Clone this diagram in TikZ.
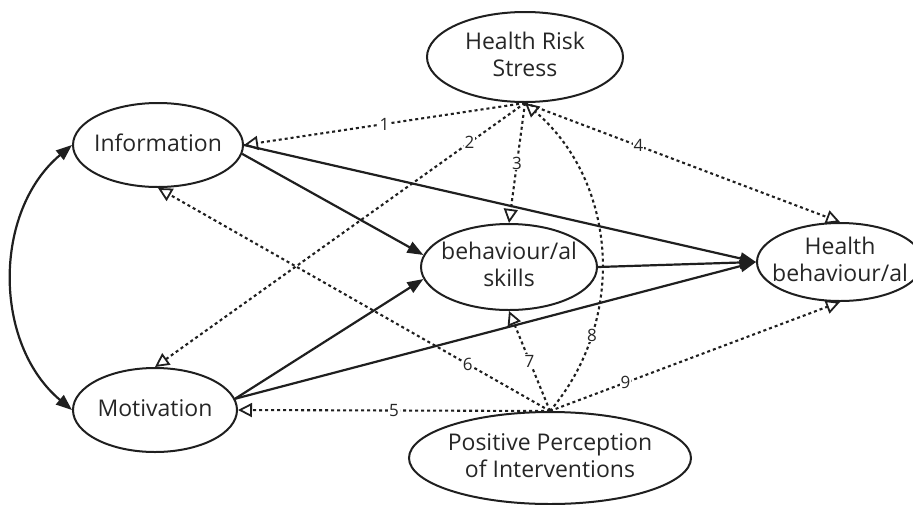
\documentclass[tikz,border=0pt]{standalone}
\usepackage{fontspec}
\setmainfont{Open Sans}
\usetikzlibrary{shapes.geometric,arrows.meta}
\newcommand{\ctext}[1]{\smash{\makebox[0pt]{\raisebox{-0.3em}{\begin{tabular}{@{}c@{}}#1\end{tabular}}}}}
\begin{document}
\begin{tikzpicture}[x=1pt,y=-1pt,
  ink/.style={draw=black!88},
  ell/.style={ink, ellipse, line width=2pt, inner sep=0pt, font=\fontsize{23}{27}\selectfont, text=black!85},
  solidarr/.style={ink, line width=2.2pt, -{Triangle[length=16pt,width=12pt]}},
  dotarr/.style={ink, line width=2.1pt, dash pattern=on 3pt off 3pt, -{Triangle[open,length=14pt,width=14pt,line width=1.8pt]}},
  lbl/.style={fill=white, inner sep=1pt, font=\fontsize{17}{17}\selectfont, text=black!85}]
\useasboundingbox (0,0) rectangle (913,504);
\node[ell, minimum width=196pt, minimum height=90pt] (hrs) at (525,57) {\ctext{Health Risk\\Stress}};
\node[ell, minimum width=170pt, minimum height=84pt] (info) at (158,145) {\ctext{Information}};
\node[ell, minimum width=164pt, minimum height=84pt] (mot) at (155,410) {\ctext{Motivation}};
\node[ell, minimum width=176pt, minimum height=86pt] (skills) at (509,267) {\ctext{behaviour/al\\skills}};
\node[ell, minimum width=166pt, minimum height=78pt] (hb) at (840,262) {\ctext{Health\\behaviour/al}};
\node[ell, minimum width=282pt, minimum height=92pt] (ppi) at (550,458) {\ctext{Positive Perception\\of Interventions}};

\draw[dotarr] (hrs.south) -- node[lbl,pos=0.5]{1} (info.east);
\draw[dotarr] (hrs.south) -- node[lbl,pos=0.15]{2} (mot.north);
\draw[dotarr] (hrs.south) -- node[lbl,pos=0.5]{3} (skills.north);
\draw[dotarr] (hrs.south) -- node[lbl,pos=0.36]{4} (hb.north);
\draw[dotarr] (ppi.north) -- node[lbl,pos=0.5]{5} (mot.east);
\draw[dotarr] (ppi.north) -- node[lbl,pos=0.21]{6} (info.south);
\draw[dotarr] (ppi.north) -- node[lbl,pos=0.5]{7} (skills.south);
\draw[dotarr] (ppi.north) to[bend right=45] node[lbl,pos=0.25]{8} (hrs.south);
\draw[dotarr] (ppi.north) -- node[lbl,pos=0.26]{9} (hb.south);

\draw[solidarr] (info.east) -- (hb.west);
\draw[solidarr] (info.-6) -- (skills.172);
\draw[solidarr] (mot.8) -- (skills.188);
\draw[solidarr] (mot.8) -- (hb.west);
\draw[solidarr] (skills.east) -- (hb.west);
\draw[ink, line width=2.2pt, {Triangle[length=16pt,width=12pt]}-{Triangle[length=16pt,width=12pt]}] (info.west) to[bend right=50] (mot.west);
\end{tikzpicture}
\end{document}
